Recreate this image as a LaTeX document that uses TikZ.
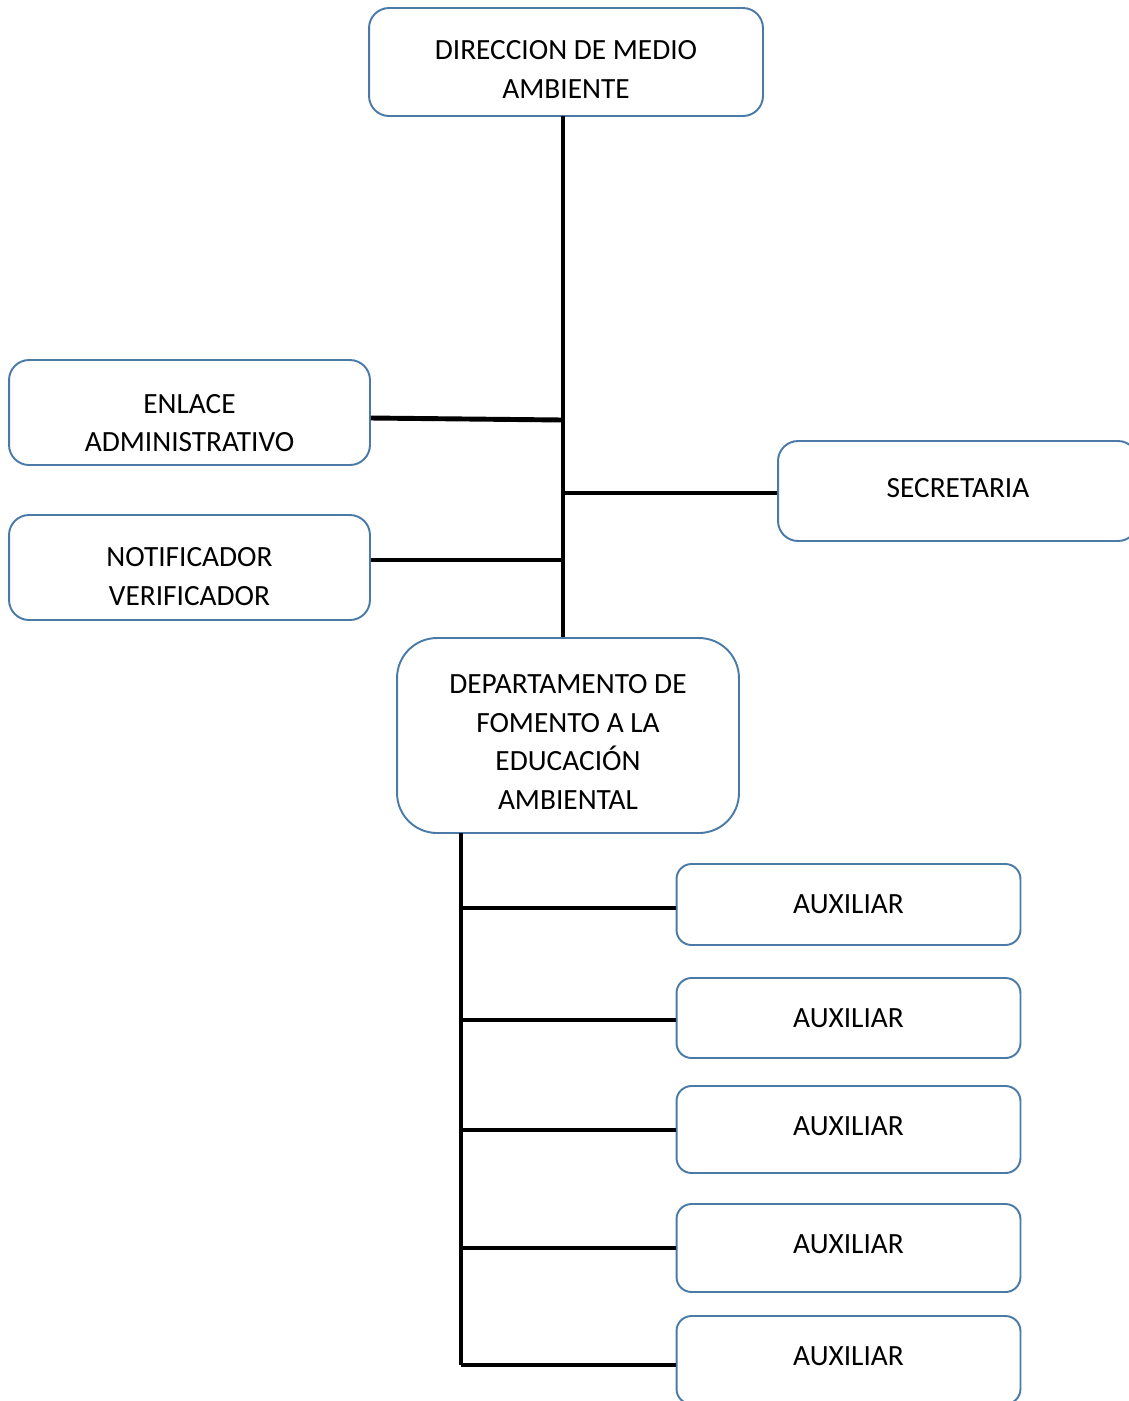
\documentclass[tikz,border=0pt]{standalone}
\usepackage{fontspec}
\setmainfont{Carlito}
\usetikzlibrary{positioning}
\definecolor{boxblue}{RGB}{74,122,168}
\tikzset{
    unit/.style={draw=boxblue, line width=1.1pt, rounded corners=0.4cm, align=center,
        inner sep=0pt, font=\fontsize{16.7}{22}\selectfont},
    link/.style={line width=2.8pt}
}
\begin{document}
\begin{tikzpicture}[x=0.02cm, y=-0.02cm]
    \useasboundingbox (0,0) rectangle (1129,1401);
    \clip (0,0) rectangle (1129,1401);
    \node[unit, minimum width=7.88cm, minimum height=2.16cm] (dir) at (566,62)
        {\rule{0pt}{19.3pt}DIRECCION DE MEDIO\\AMBIENTE};
    \node[unit, minimum width=7.22cm, minimum height=2.1cm] (enl) at (189.5,412.5)
        {\rule{0pt}{22.7pt}ENLACE\\ADMINISTRATIVO};
    \node[unit, minimum width=7.22cm, minimum height=2.1cm] (noti) at (189.5,567.5)
        {\rule{0pt}{21.5pt}NOTIFICADOR\\ VERIFICADOR};
    \node[unit, text depth=0.12cm, minimum width=7.2cm, minimum height=2cm] (sec) at (958,491)
        {SECRETARIA};
    \node[unit, rounded corners=0.8cm, minimum width=6.84cm, minimum height=3.9cm] (dep) at (568,735.5)
        {\rule{0pt}{18.3pt}DEPARTAMENTO DE\\FOMENTO A LA\\EDUCACI\'ON\\AMBIENTAL};
    \foreach \i/\y/\h/\d in {1/904.5/1.62/0, 2/1018/1.6/0, 3/1129.5/1.74/0.12, 4/1248/1.76/0.16, 5/1360/1.76/0.14}
        \node[unit, rounded corners=0.3cm, text depth=\d cm, minimum width=6.88cm, minimum height=\h cm] (aux\i) at (848.5,\y)
            {AUXILIAR};
    \coordinate (top) at (563,116);
    \coordinate (low) at (461,833);
    \draw[link] (top) -- (top |- dep.north);
    \draw[link] (enl.east |- 0,418) -- (top |- 0,420);
    \draw[link] (noti.east |- 0,560) -- (top |- 0,560);
    \draw[link] (top |- 0,493) -- (sec.west |- 0,493);
    \draw[link] (low) -- (low |- 0,1365);
    \foreach \i/\ly in {1/908,2/1020,3/1130,4/1248,5/1365}
    \draw[link] (low |- 0,\ly) -- (aux\i.west |- 0,\ly);
\end{tikzpicture}
\end{document}
